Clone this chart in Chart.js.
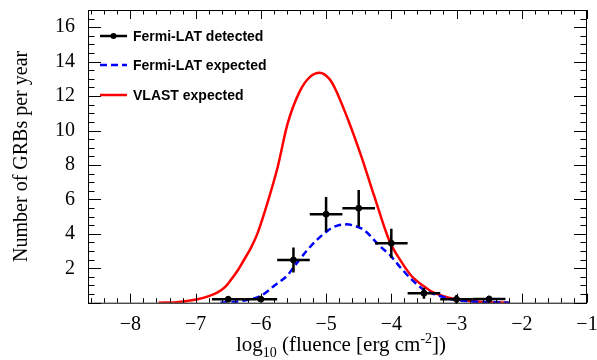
<!DOCTYPE html>
<html>
<head>
<meta charset="utf-8">
<script src="https://cdn.jsdelivr.net/npm/chart.js@4"></script>
<style>
  body { margin: 0; background: #fff; }
  #wrap { width: 597px; height: 360px; }
</style>
</head>
<body>
<div id="wrap"><canvas id="c" width="597" height="360"></canvas></div>
<script>
// Fermi-LAT detected: bin centres, rates, errors
const detX = [-6.5, -6.0, -5.5, -5.0, -4.5, -4.0, -3.5, -3.0, -2.5];
const detY = [0.2, 0.2, 2.48, 5.14, 5.49, 3.45, 0.55, 0.2, 0.21];
const detErrY = [0.15, 0.15, 0.73, 1.0, 1.06, 0.85, 0.32, 0.25, 0.2];
const detErrX = [0.25, 0.25, 0.25, 0.25, 0.25, 0.25, 0.25, 0.25, 0.25];

// Fermi-LAT expected curve
const fermiX = [-6.62, -6.3, -6.0, -5.79, -5.59, -5.49, -5.3, -5.18, -4.97, -4.85, -4.69, -4.55, -4.41, -4.18, -4.03, -3.85, -3.69, -3.5, -3.33, -3.1, -2.92, -2.6, -2.18];
const fermiY = [0, 0.1, 0.4, 1.0, 1.6, 2.1, 3.0, 3.5, 4.2, 4.45, 4.55, 4.45, 4.2, 3.3, 2.8, 2.0, 1.35, 0.75, 0.48, 0.22, 0.12, 0.04, 0];

// VLAST expected curve
const vlastX = [-7.57, -7.3, -7.1, -6.97, -6.8, -6.67, -6.55, -6.46, -6.35, -6.26, -6.15, -6.05, -5.9, -5.74, -5.59, -5.4, -5.25, -5.1, -4.95, -4.87, -4.66, -4.46, -4.26, -4.03, -3.85, -3.69, -3.5, -3.38, -3.2, -3.03, -2.8, -2.5, -2.2];
const vlastY = [0, 0.03, 0.12, 0.2, 0.38, 0.58, 0.9, 1.32, 1.9, 2.48, 3.2, 4.04, 5.78, 7.91, 10.4, 12.3, 13.1, 13.35, 13.0, 12.5, 10.6, 8.5, 6.17, 3.6, 2.4, 1.55, 0.95, 0.64, 0.38, 0.22, 0.1, 0.03, 0];

const xRange = [-8.65, -1];
const yRange = [0, 17];
const xTickLabels = [-8, -7, -6, -5, -4, -3, -2, -1];
const yTickLabels = [2, 4, 6, 8, 10, 12, 14, 16];

const pts = (xs, ys) => xs.map((x, i) => ({ x: x, y: ys[i] }));
const minus = v => String(v).replace('-', '\u2212');

const rootStyle = {
  id: 'rootStyle',
  afterDatasetsDraw(chart) {
    const ctx = chart.ctx;
    const xs = chart.scales.x, ys = chart.scales.y;

    // error bars
    ctx.save();
    ctx.strokeStyle = '#000';
    ctx.lineWidth = 2.5;
    detX.forEach((x, i) => {
      const px = xs.getPixelForValue(x), py = ys.getPixelForValue(detY[i]);
      ctx.beginPath();
      ctx.moveTo(xs.getPixelForValue(x - detErrX[i]), py);
      ctx.lineTo(xs.getPixelForValue(x + detErrX[i]), py);
      ctx.moveTo(px, ys.getPixelForValue(detY[i] - detErrY[i]));
      ctx.lineTo(px, ys.getPixelForValue(detY[i] + detErrY[i]));
      ctx.stroke();
    });
    ctx.restore();
  },
  afterDraw(chart) {
    const ctx = chart.ctx;
    const a = chart.chartArea;
    const xs = chart.scales.x, ys = chart.scales.y;
    ctx.save();
    ctx.strokeStyle = '#000';
    ctx.lineWidth = 1;
    ctx.strokeRect(a.left + 0.5, a.top + 0.5, a.right - a.left - 1, a.bottom - a.top);

    // inward ticks, x: major 1, minor 0.2
    ctx.beginPath();
    for (let k = -43; k <= -5; k++) {
      const v = k * 0.2;
      if (v < xRange[0] - 1e-9) continue;
      const px = Math.round(xs.getPixelForValue(v)) + 0.5;
      const len = (k % 5 === 0) ? 9 : 4.5;
      ctx.moveTo(px, a.bottom); ctx.lineTo(px, a.bottom - len);
      ctx.moveTo(px, a.top); ctx.lineTo(px, a.top + len);
    }
    // y: major 2, minor 0.5
    for (let k = 0; k <= 34; k++) {
      const v = k * 0.5;
      const py = Math.round(ys.getPixelForValue(v)) + 0.5;
      const len = (k % 4 === 0) ? 13 : 6.5;
      ctx.moveTo(a.left, py); ctx.lineTo(a.left + len, py);
      ctx.moveTo(a.right, py); ctx.lineTo(a.right - len, py);
    }
    ctx.stroke();

    // x axis title with sub/superscript
    const big = '21px "Liberation Serif"', small = '14px "Liberation Serif"';
    const parts = [
      ['log', big, 0], ['10', small, 6], [' (fluence [erg cm', big, 0], ['-2', small, -8], ['])', big, 0]
    ];
    let w = 0;
    parts.forEach(p => { ctx.font = p[1]; w += ctx.measureText(p[0]).width; });
    let x = 341 - w / 2;
    const base = 351;
    ctx.fillStyle = '#000';
    ctx.textBaseline = 'alphabetic';
    ctx.textAlign = 'left';
    parts.forEach(p => {
      ctx.font = p[1];
      ctx.fillText(p[0], x, base + p[2]);
      x += ctx.measureText(p[0]).width;
    });

    // legend
    ctx.font = 'bold 14px "Liberation Sans"';
    ctx.textBaseline = 'middle';
    const rows = [36, 65, 95];
    chart.data.datasets.forEach((ds, i) => {
      const y = rows[i];
      ctx.save();
      ctx.strokeStyle = ds.borderColor;
      ctx.lineWidth = 2.5;
      ctx.setLineDash(ds.borderDash || []);
      ctx.beginPath();
      ctx.moveTo(100, y); ctx.lineTo(127, y);
      ctx.stroke();
      ctx.restore();
      if (i === 0) {
        ctx.beginPath();
        ctx.arc(113.5, y, 3, 0, Math.PI * 2);
        ctx.fill();
      }
      ctx.fillText(ds.label, 133, y + 1);
    });
    ctx.restore();
  }
};

new Chart(document.getElementById('c'), {
  type: 'scatter',
  data: {
    datasets: [
      {
        label: 'Fermi-LAT detected',
        data: pts(detX, detY),
        borderColor: '#000',
        backgroundColor: '#000',
        pointRadius: 3,
        showLine: false
      },
      {
        label: 'Fermi-LAT expected',
        data: pts(fermiX, fermiY),
        borderColor: '#0000ff',
        borderWidth: 2.5,
        borderDash: [7, 4],
        pointRadius: 0,
        showLine: true,
        cubicInterpolationMode: 'monotone'
      },
      {
        label: 'VLAST expected',
        data: pts(vlastX, vlastY),
        borderColor: '#ff0000',
        borderWidth: 2.5,
        pointRadius: 0,
        showLine: true,
        cubicInterpolationMode: 'monotone'
      }
    ]
  },
  options: {
    responsive: false,
    animation: false,
    layout: { padding: { top: 10, right: 10, left: 0, bottom: 0 } },
    plugins: { legend: { display: false }, tooltip: { enabled: false } },
    scales: {
      x: {
        type: 'linear',
        min: xRange[0],
        max: xRange[1],
        grid: { display: false, drawTicks: false },
        border: { display: false },
        afterBuildTicks: s => { s.ticks = xTickLabels.map(v => ({ value: v })); },
        afterFit: s => { s.height = 57.3; s.paddingLeft = 0; s.paddingRight = 0; },
        ticks: {
          color: '#000',
          font: { family: 'Liberation Serif', size: 20 },
          padding: 10,
          maxRotation: 0,
          callback: v => minus(v)
        }
      },
      y: {
        min: yRange[0],
        max: yRange[1],
        grid: { display: false, drawTicks: false },
        border: { display: false },
        afterBuildTicks: s => { s.ticks = yTickLabels.map(v => ({ value: v })); },
        afterFit: s => { s.width = 88; s.paddingTop = 0; s.paddingBottom = 0; },
        title: {
          display: true,
          text: 'Number of GRBs per year',
          color: '#000',
          font: { family: 'Liberation Serif', size: 20 },
          padding: { top: 10, bottom: 0 }
        },
        ticks: {
          color: '#000',
          font: { family: 'Liberation Serif', size: 20 },
          padding: 13,
          callback: v => minus(v)
        }
      }
    }
  },
  plugins: [rootStyle]
});
</script>
</body>
</html>
